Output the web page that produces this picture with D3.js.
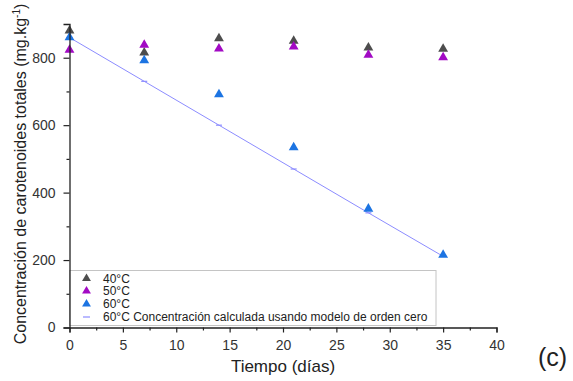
<!DOCTYPE html>
<html>
<head>
<meta charset="utf-8">
<script src="https://cdn.jsdelivr.net/npm/d3@7"></script>
<style>
  body { margin: 0; background: #fff; }
  svg { display: block; font-family: "Liberation Sans", Arial, sans-serif; }
</style>
</head>
<body>
<svg id="chart" width="573" height="381"></svg>
<script>
// data
const days = [0, 7, 14, 21, 28, 35];
const conc40 = [880, 815, 857, 850, 830, 826];
const conc50 = [823, 838, 827, 833, 808, 801];
const conc60 = [860, 792, 691, 534, 352, 215];
const calc60 = [860, 730, 600, 470, 340, 211];
const xTicks = [0, 5, 10, 15, 20, 25, 30, 35, 40];
const yTicks = [0, 200, 400, 600, 800];
const legendLabels = ["40°C", "50°C", "60°C", "60°C Concentración calculada usando modelo de orden cero"];

const svg = d3.select("#chart");
const plotLeft = 69.5, plotRight = 496.5, plotTop = 24, plotBottom = 327.5;

const x = d3.scaleLinear().domain([0, 40]).range([plotLeft, plotRight]);
const y = d3.scaleLinear().domain([0, 900]).range([plotBottom, plotTop]);

const colors = { c40: "#4d4d4d", c50: "#a20ac4", c60: "#1c74e2", calc: "#8c8cff" };

// calculated line (zero order model)
svg.append("path")
  .datum(days.map((d, i) => [d, calc60[i]]))
  .attr("fill", "none")
  .attr("stroke", colors.calc)
  .attr("stroke-width", 1)
  .attr("d", d3.line().x(d => x(d[0])).y(d => y(d[1])));

svg.selectAll(".calcmark")
  .data(days.map((d, i) => [d, calc60[i]]))
  .enter().append("line")
  .attr("x1", d => x(d[0]) - 3).attr("x2", d => x(d[0]) + 3)
  .attr("y1", d => y(d[1])).attr("y2", d => y(d[1]))
  .attr("stroke", colors.calc).attr("stroke-width", 1.2);

const tri = d3.symbol().type(d3.symbolTriangle).size(42);

function drawSeries(vals, col) {
  svg.append("g").selectAll("path")
    .data(days.map((d, i) => [d, vals[i]]))
    .enter().append("path")
    .attr("d", tri)
    .attr("transform", d => "translate(" + x(d[0]) + "," + y(d[1]) + ")")
    .attr("fill", col);
}
drawSeries(conc40, colors.c40);
drawSeries(conc50, colors.c50);
drawSeries(conc60, colors.c60);

// legend box
const lg = svg.append("g");
lg.append("rect")
  .attr("x", plotLeft).attr("y", 270.5)
  .attr("width", 436 - plotLeft).attr("height", 55)
  .attr("fill", "#fff").attr("stroke", "#c4c4c4").attr("stroke-width", 1);
const legendY = [278.5, 291, 304, 317];
const legendCols = [colors.c40, colors.c50, colors.c60];
legendLabels.forEach((lab, i) => {
  if (i < 3) {
    lg.append("path").attr("d", d3.symbol().type(d3.symbolTriangle).size(34))
      .attr("transform", "translate(86.5," + legendY[i] + ")")
      .attr("fill", legendCols[i]);
  } else {
    lg.append("line").attr("x1", 83).attr("x2", 90)
      .attr("y1", legendY[i]).attr("y2", legendY[i])
      .attr("stroke", colors.calc).attr("stroke-width", 1.2);
  }
  lg.append("text").attr("x", 103).attr("y", legendY[i] + 4.3)
    .attr("font-size", 12).attr("fill", "#222").text(lab);
});

// axes
const xAxis = svg.append("g")
  .attr("transform", "translate(0," + plotBottom + ")")
  .call(d3.axisBottom(x).tickValues(xTicks).tickSize(5).tickPadding(8));
svg.append("g")
  .attr("transform", "translate(0," + plotBottom + ")")
  .call(d3.axisBottom(x).tickValues(d3.range(2.5, 40, 5)).tickSize(3).tickFormat(""))
  .select(".domain").remove();
const yAxis = svg.append("g")
  .attr("transform", "translate(" + plotLeft + ",0)")
  .call(d3.axisLeft(y).tickValues(yTicks).tickSize(6).tickPadding(8));
svg.append("g")
  .attr("transform", "translate(" + plotLeft + ",0)")
  .call(d3.axisLeft(y).tickValues([100, 300, 500, 700]).tickSize(3).tickFormat(""))
  .select(".domain").remove();

svg.selectAll(".domain").attr("stroke", "#222").attr("stroke-width", 1.3);
svg.selectAll(".tick line").attr("stroke", "#222").attr("stroke-width", 1.2);
xAxis.selectAll("text").attr("font-size", 14).attr("fill", "#333");
yAxis.selectAll("text").attr("font-size", 14).attr("fill", "#333");

// axis titles
svg.append("text").attr("x", 283).attr("y", 372)
  .attr("text-anchor", "middle").attr("font-size", 17).attr("fill", "#222")
  .text("Tiempo (días)");

const yt = svg.append("text")
  .attr("transform", "translate(26,174) rotate(-90)")
  .attr("text-anchor", "middle").attr("font-size", 16).attr("fill", "#222");
yt.append("tspan").text("Concentración de carotenoides totales (mg.kg");
yt.append("tspan").attr("font-size", 10).attr("dy", -6).text("-1");
yt.append("tspan").attr("dy", 6).text(")");

svg.append("text").attr("x", 538).attr("y", 366)
  .attr("font-size", 25).attr("fill", "#222")
  .text("(c)");
</script>
</body>
</html>
